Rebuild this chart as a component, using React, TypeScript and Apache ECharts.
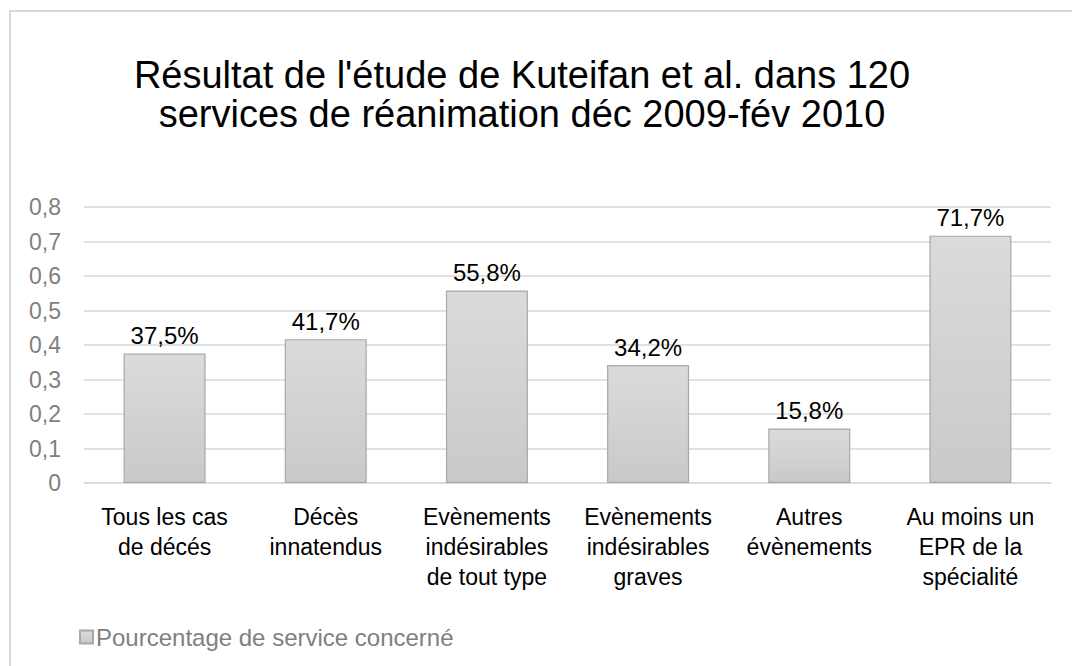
import React, { useEffect, useRef } from "react";
import * as echarts from "echarts";

const categories: string[] = [
  "Tous les cas\nde décés",
  "Décès\ninnatendus",
  "Evènements\nindésirables\nde tout type",
  "Evènements\nindésirables\ngraves",
  "Autres\névènements",
  "Au moins un\nEPR de la\nspécialité",
];
const seriesName = "Pourcentage de service concerné";
const values: number[] = [0.375, 0.417, 0.558, 0.342, 0.158, 0.717];
const titleLines: string[] = [
  "Résultat de l'étude de Kuteifan et al. dans 120",
  "services de réanimation déc 2009-fév 2010",
];

const FONT = "'Liberation Sans', Arial, Helvetica, sans-serif";

export default function App() {
  const ref = useRef<HTMLDivElement>(null);
  useEffect(() => {
    if (!ref.current) return;
    const chart = echarts.init(ref.current, undefined, { renderer: "svg" });
    const barFill = new echarts.graphic.LinearGradient(0, 0, 0, 1, [
      { offset: 0, color: "#dbdbdb" },
      { offset: 1, color: "#c9c9c9" },
    ]);
    chart.setOption({
      animation: false,
      backgroundColor: "#ffffff",
      textStyle: { fontFamily: FONT },
      graphic: [
        {
          type: "rect",
          shape: { x: 10, y: 11, width: 1200, height: 800 },
          style: { fill: "none", stroke: "#d9d9d9", lineWidth: 2 },
          silent: true,
        },
        {
          type: "text",
          x: 522,
          y: 55,
          style: {
            text: titleLines.join("\n"),
            fontSize: 38,
            lineHeight: 39,
            fontFamily: FONT,
            fill: "#000000",
            align: "center",
            verticalAlign: "top",
          },
        },
      ],
      legend: {
        left: 74,
        top: 620,
        icon: "rect",
        itemWidth: 13,
        itemHeight: 13,
        itemGap: 10,
        textStyle: { color: "#7f7f7f", fontSize: 24, fontFamily: FONT, padding: [0, 0, 0, -2] },
        data: [seriesName],
      },
      grid: { left: 84, right: 21, top: 207, bottom: 183, containLabel: false },
      xAxis: {
        type: "category",
        data: categories,
        axisLine: { show: true, lineStyle: { color: "#d9d9d9", width: 1.5 } },
        axisTick: { show: false },
        axisLabel: {
          color: "#000000",
          fontSize: 23,
          lineHeight: 30,
          margin: 19,
          fontFamily: FONT,
          interval: 0,
        },
      },
      yAxis: {
        type: "value",
        min: 0,
        max: 0.8,
        interval: 0.1,
        axisLine: { show: false },
        axisTick: { show: false },
        splitLine: { lineStyle: { color: "#d9d9d9", width: 1.5 } },
        axisLabel: {
          color: "#7f7f7f",
          fontSize: 23,
          margin: 23,
          fontFamily: FONT,
          formatter: (v: number) => (Math.round(v * 10) / 10).toString().replace(".", ","),
        },
      },
      series: [
        {
          name: seriesName,
          type: "bar",
          data: values,
          barWidth: 82,
          itemStyle: { color: barFill, borderColor: "#a8a8a8", borderWidth: 1.2 },
          label: {
            show: true,
            position: "top",
            distance: 6,
            color: "#000000",
            fontSize: 24,
            fontFamily: FONT,
            formatter: (p: any) => (p.value * 100).toFixed(1).replace(".", ",") + "%",
          },
        },
      ],
    });
    return () => chart.dispose();
  }, []);
  return (
    <div
      ref={ref}
      style={{ position: "fixed", left: 0, top: 0, width: 1072, height: 666 }}
    />
  );
}
